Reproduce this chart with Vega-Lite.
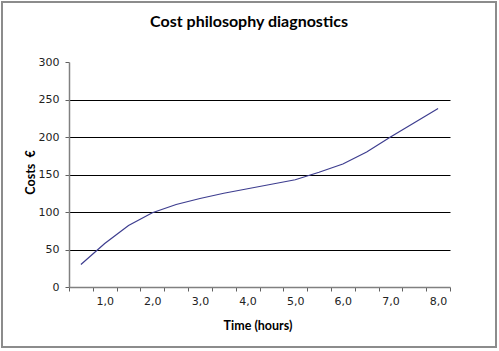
{
  "$schema": "https://vega.github.io/schema/vega-lite/v6.json",
  "width": 494,
  "height": 345,
  "autosize": "none",
  "padding": {"left": 2, "top": 2, "right": 3, "bottom": 4},
  "background": "white",
  "title": {
    "text": "Cost philosophy diagnostics",
    "font": "Lato",
    "fontSize": 16,
    "fontWeight": "bold",
    "color": "black",
    "anchor": "middle",
    "offset": -44,
    "baseline": "bottom"
  },
  "data": {
    "values": [
      {"time": 0.5, "cost": 30},
      {"time": 1.0, "cost": 58},
      {"time": 1.5, "cost": 82},
      {"time": 2.0, "cost": 99},
      {"time": 2.5, "cost": 110},
      {"time": 3.0, "cost": 118},
      {"time": 3.5, "cost": 125},
      {"time": 4.0, "cost": 131},
      {"time": 4.5, "cost": 137},
      {"time": 5.0, "cost": 143},
      {"time": 5.5, "cost": 153},
      {"time": 6.0, "cost": 164},
      {"time": 6.5, "cost": 180},
      {"time": 7.0, "cost": 200},
      {"time": 7.5, "cost": 219},
      {"time": 8.0, "cost": 238}
    ]
  },
  "mark": {"type": "line", "color": "#3d3d8f", "strokeWidth": 1.2},
  "encoding": {
    "x": {
      "field": "time",
      "type": "quantitative",
      "scale": {"domain": [0.25, 8.25], "nice": false, "zero": false, "range": [67, 448]},
      "axis": {
        "title": "Time (hours)",
        "offset": -60,
        "values": [0.25, 0.75, 1, 1.25, 1.75, 2, 2.25, 2.75, 3, 3.25, 3.75, 4, 4.25, 4.75, 5, 5.25, 5.75, 6, 6.25, 6.75, 7, 7.25, 7.75, 8, 8.25],
        "labelExpr": "datum.value % 1 == 0 ? replace(format(datum.value, '.1f'), '.', ',') : ''",
        "tickOpacity": {"condition": {"test": "datum.value % 1 != 0", "value": 1}, "value": 0},
        "grid": false,
        "labelPadding": 4,
        "titleY": 38,
        "titleX": 255.5,
        "titleBaseline": "middle",
        "labelFlush": false,
        "labelOverlap": false
      }
    },
    "y": {
      "field": "cost",
      "type": "quantitative",
      "scale": {"domain": [0, 300], "nice": false, "range": [285, 60]},
      "axis": {
        "title": "Costs\u00a0 €",
        "offset": -67,
        "values": [0, 50, 100, 150, 200, 250, 300],
        "grid": true,
        "gridColor": "black",
        "gridOpacity": {"condition": {"test": "datum.value == 0 || datum.value == 300", "value": 0}, "value": 1},
        "labelPadding": 6,
        "titleX": -39,
        "titleY": 170,
        "titleAlign": "center",
        "titleBaseline": "middle",
        "titleAngle": -90
      }
    }
  },
  "config": {
    "view": {"stroke": "#8c8c8c", "strokeWidth": 2},
    "axis": {
      "domainColor": "#808080",
      "domainWidth": 1.5,
      "tickColor": "#606060",
      "tickSize": 4,
      "labelFont": "DejaVu Sans",
      "labelFontSize": 11,
      "labelColor": "#222222",
      "titleFont": "Lato",
      "titleFontSize": 12.5,
      "titleFontWeight": "bold",
      "titleColor": "black"
    }
  }
}
